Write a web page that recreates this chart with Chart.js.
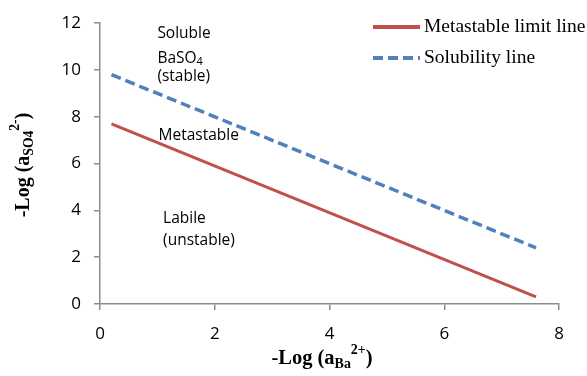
<!DOCTYPE html>
<html>
<head>
<meta charset="utf-8">
<script src="https://cdn.jsdelivr.net/npm/chart.js@4.4.0/dist/chart.umd.min.js"></script>
<style>
  html, body { margin: 0; padding: 0; background: #fff; }
  #wrap { width: 587px; height: 376px; }
</style>
</head>
<body>
<div id="wrap"><canvas id="chart"></canvas></div>
<script>
// values
const logBa = [0.2, 7.6];
const metastableLimit = [7.7, 0.3];
const solubilityLine = [9.8, 2.4];
const xTicks = [0, 2, 4, 6, 8];
const yTicks = [0, 2, 4, 6, 8, 10, 12];

const RED = '#c0504d';
const BLUE = '#4f81bd';
const AXIS = '#8c8c8c';

function toPoints(xs, ys) {
    return xs.map((x, i) => ({ x: x, y: ys[i] }));
}

// region labels, placed in data coordinates
const regionLabels = [
    { x: 1.0, y: 11.55, lines: ['Soluble'] },
    { x: 1.0, y: 10.5, lines: ['BaSO', '4'] },
    { x: 1.0, y: 9.7, lines: ['(stable)'] },
    { x: 1.02, y: 7.2, lines: ['Metastable'] },
    { x: 1.1, y: 3.65, lines: ['Labile'] },
    { x: 1.1, y: 2.7, lines: ['(unstable)'] }
];

// draws text made of [text, 'sub'|'sup'|null] pieces
function drawRich(ctx, parts, x, y, size, family) {
    let cx = x;
    parts.forEach(p => {
        let s = size, dy = 0;
        if (p[1] === 'sub') { s = size * 0.68; dy = size * 0.28; }
        if (p[1] === 'sup') { s = size * 0.68; dy = -size * 0.42; }
        ctx.font = 'bold ' + s + 'px ' + family;
        ctx.fillText(p[0], cx, y + dy);
        cx += ctx.measureText(p[0]).width;
    });
}
function richWidth(ctx, parts, size, family) {
    let w = 0;
    parts.forEach(p => {
        const s = p[1] ? size * 0.68 : size;
        ctx.font = 'bold ' + s + 'px ' + family;
        w += ctx.measureText(p[0]).width;
    });
    return w;
}

const extras = {
    id: 'extras',
    afterDraw(chart) {
        const ctx = chart.ctx;
        const xs = chart.scales.x, ys = chart.scales.y;
        ctx.save();
        ctx.fillStyle = '#000';
        ctx.textBaseline = 'middle';
        ctx.textAlign = 'left';

        // region labels
        regionLabels.forEach(l => {
            const px = xs.getPixelForValue(l.x);
            const py = ys.getPixelForValue(l.y);
            ctx.font = '15.5px "Open Sans", sans-serif';
            ctx.fillText(l.lines[0], px, py);
            if (l.lines[1]) {
                const w = ctx.measureText(l.lines[0]).width;
                ctx.font = '11px "Open Sans", sans-serif';
                ctx.fillText(l.lines[1], px + w, py + 4);
            }
        });

        // legend
        const ds = chart.data.datasets;
        const lx = 373, ly = [27, 58];
        ds.forEach((d, i) => {
            ctx.strokeStyle = d.borderColor;
            ctx.lineWidth = 4;
            ctx.setLineDash(d.borderDash || []);
            ctx.beginPath();
            ctx.moveTo(lx, ly[i]);
            ctx.lineTo(lx + 47, ly[i]);
            ctx.stroke();
            ctx.setLineDash([]);
            ctx.font = '19.5px "Liberation Serif", serif';
            ctx.fillText(d.label, lx + 51, ly[i]);
        });

        // axis titles
        const fam = '"Liberation Serif", serif';
        const xt = [['-Log (a', null], ['Ba', 'sub'], ['2+', 'sup'], [')', null]];
        const xw = richWidth(ctx, xt, 20.5, fam);
        drawRich(ctx, xt, 322 - xw / 2, 359, 20.5, fam);

        const yt = [['-Log (a', null], ['SO4', 'sub'], ['2-', 'sup'], [')', null]];
        const yw = richWidth(ctx, yt, 20, fam);
        ctx.translate(24, 165);
        ctx.rotate(-Math.PI / 2);
        drawRich(ctx, yt, -yw / 2, 0, 20, fam);
        ctx.restore();
    }
};

new Chart(document.getElementById('chart'), {
    type: 'scatter',
    data: {
        datasets: [{
            label: 'Metastable limit line',
            data: toPoints(logBa, metastableLimit),
            showLine: true,
            borderColor: RED,
            borderWidth: 3,
            pointRadius: 0
        }, {
            label: 'Solubility line',
            data: toPoints(logBa, solubilityLine),
            showLine: true,
            borderColor: BLUE,
            borderWidth: 3.5,
            borderDash: [10, 5],
            pointRadius: 0
        }]
    },
    options: {
        responsive: true,
        maintainAspectRatio: false,
        animation: false,
        layout: { padding: { left: 0, right: 28, top: 19, bottom: 0 } },
        plugins: { legend: { display: false }, tooltip: { enabled: false } },
        scales: {
            x: {
                type: 'linear', min: 0, max: 8,
                afterFit: s => { s.height = 72; },
                afterBuildTicks: s => { s.ticks = xTicks.map(v => ({ value: v })); },
                border: { color: AXIS, width: 1.5 },
                grid: { drawOnChartArea: false, color: AXIS, tickLength: 6, lineWidth: 1.5 },
                ticks: { color: '#000', padding: 14, font: { family: '"Open Sans", sans-serif', size: 17 } }
            },
            y: {
                type: 'linear', min: 0, max: 12,
                afterFit: s => { s.width = 100; },
                afterBuildTicks: s => { s.ticks = yTicks.map(v => ({ value: v })); },
                border: { color: AXIS, width: 1.5 },
                grid: { drawOnChartArea: false, color: AXIS, tickLength: 6, lineWidth: 1.5 },
                ticks: { color: '#000', padding: 13, font: { family: '"Open Sans", sans-serif', size: 17 } }
            }
        }
    },
    plugins: [extras]
});
</script>
</body>
</html>
